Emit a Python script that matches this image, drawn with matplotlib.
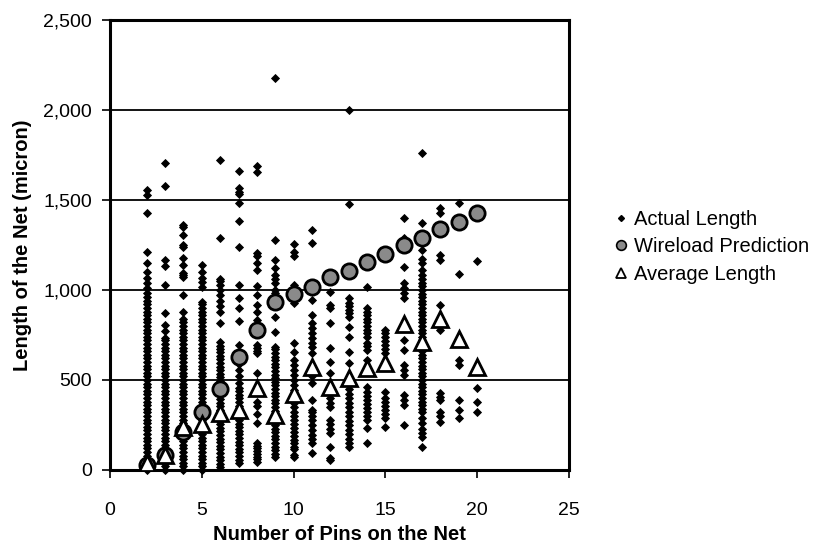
import matplotlib
matplotlib.use("Agg")
import matplotlib.pyplot as plt
from matplotlib.lines import Line2D
from matplotlib.ticker import FuncFormatter

plt.rcParams['font.family'] = ['Liberation Sans', 'DejaVu Sans']

# ---------------- data ----------------
pins = [2, 3, 4, 5, 6, 7, 8, 9, 10, 11, 12, 13, 14, 15, 16, 17, 18, 19, 20]

wireload = [28, 83, 211, 322, 450, 628, 778, 933, 978, 1017, 1070, 1108,
            1155, 1200, 1250, 1290, 1339, 1378, 1428]

average = [39, 83, 239, 255, 317, 333, 456, 306, 422, 572, 461, 511,
           567, 594, 811, 711, 839, 728, 572]

actual = {
    2: [0, 20, 40, 60, 80, 100, 120, 140, 160, 180, 200, 220, 240, 260, 280, 300,
        320, 340, 360, 380, 400, 420, 440, 460, 480, 500, 520, 540, 560, 580, 600,
        620, 640, 660, 680, 700, 720, 740, 760, 780, 800, 820, 840, 860, 880, 900,
        920, 940, 960, 985, 1010, 1040, 1064, 1100, 1150, 1211, 1427, 1528, 1555],
    3: [0, 20, 40, 60, 80, 100, 120, 140, 160, 180, 200, 220, 240, 260, 280, 300,
        320, 340, 360, 380, 400, 420, 440, 460, 480, 500, 520, 540, 560, 580, 600,
        620, 640, 660, 680, 700, 720, 735, 770, 805, 872, 1028, 1133, 1167, 1578, 1705],
    4: [0, 20, 40, 60, 80, 100, 120, 140, 160, 180, 200, 220, 240, 260, 280, 300,
        320, 340, 360, 380, 400, 420, 440, 460, 480, 500, 520, 540, 560, 580, 600,
        620, 640, 660, 680, 700, 720, 740, 760, 780, 800, 820, 840, 878, 972, 1072,
        1083, 1094, 1139, 1178, 1239, 1250, 1306, 1350, 1361],
    5: [0, 20, 40, 60, 80, 100, 120, 140, 160, 180, 200, 220, 240, 260, 280, 300,
        320, 340, 360, 380, 400, 420, 440, 460, 480, 500, 520, 540, 560, 580, 600,
        620, 640, 660, 680, 700, 720, 740, 760, 780, 800, 820, 840, 860, 880, 900,
        920, 933, 1017, 1044, 1067, 1100, 1139],
    6: [17, 35, 55, 75, 95, 115, 135, 155, 175, 195, 215, 235, 255, 275, 295, 315,
        335, 355, 375, 395, 415, 435, 455, 475, 495, 515, 535, 555, 575, 595, 615,
        635, 655, 675, 690, 711, 817, 880, 910, 940, 970, 1000, 1028, 1050, 1061,
        1289, 1722],
    7: [39, 58, 78, 98, 118, 138, 158, 178, 198, 218, 238, 258, 278, 298, 318, 338,
        358, 378, 398, 418, 438, 458, 483, 520, 556, 590, 617, 694, 828, 900, 955,
        1028, 1239, 1383, 1483, 1533, 1544, 1567, 1661],
    8: [44, 60, 75, 90, 105, 120, 135, 150, 261, 311, 356, 378, 539, 650, 662, 678,
        694, 833, 878, 917, 972, 1022, 1111, 1150, 1189, 1206, 1656, 1689],
    9: [72, 90, 110, 130, 150, 170, 190, 210, 230, 250, 270, 290, 310, 330, 350, 370,
        390, 410, 430, 450, 470, 490, 510, 530, 550, 570, 590, 610, 630, 650, 670,
        683, 767, 850, 933, 983, 1000, 1039, 1061, 1083, 1122, 1167, 1278, 2178],
    10: [72, 83, 117, 128, 150, 167, 189, 211, 233, 256, 278, 300, 322, 350, 372,
         444, 472, 500, 528, 556, 583, 611, 656, 706, 928, 1028, 1189, 1211, 1255],
    11: [94, 150, 172, 195, 222, 250, 278, 300, 320, 333, 389, 483, 520, 650, 683,
         708, 733, 761, 789, 817, 861, 944, 1261, 1333],
    12: [56, 67, 128, 206, 230, 255, 278, 350, 375, 400, 428, 539, 600, 678, 817,
         900, 917, 989],
    13: [128, 150, 175, 200, 225, 250, 275, 300, 325, 350, 375, 400, 425, 450, 483,
         594, 656, 739, 794, 850, 870, 890, 910, 930, 955, 1478, 2000],
    14: [150, 233, 278, 300, 322, 345, 367, 390, 412, 435, 461, 611, 667, 690, 706,
         739, 760, 780, 800, 820, 840, 860, 880, 900, 1017],
    15: [239, 289, 311, 333, 356, 378, 400, 433, 650, 672, 694, 717, 739, 761, 778],
    16: [250, 361, 389, 417, 528, 556, 583, 667, 722, 955, 983, 1011, 1039, 1128,
         1239, 1264, 1289, 1400],
    17: [128, 183, 206, 230, 260, 289, 322, 340, 360, 380, 400, 420, 440, 460, 480,
         500, 520, 540, 560, 580, 600, 620, 640, 660, 680, 700, 720, 740, 760, 780,
         800, 820, 840, 860, 880, 900, 920, 940, 960, 980, 1000, 1020, 1040, 1060,
         1083, 1111, 1150, 1172, 1222, 1372, 1761],
    18: [267, 300, 322, 389, 405, 428, 778, 917, 1167, 1194, 1428, 1455],
    19: [289, 333, 389, 583, 611, 1089, 1483],
    20: [322, 378, 456, 1161],
}

x_ticks = [0, 5, 10, 15, 20, 25]
y_ticks = [0, 500, 1000, 1500, 2000, 2500]

# ---------------- figure ----------------
W, H = 817, 548
fig = plt.figure(figsize=(W / 100, H / 100), dpi=100)
ax = fig.add_axes([110 / W, 1 - 470 / H, (569 - 110) / W, (470 - 20) / H])

ax.set_xlim(0, 25)
ax.set_ylim(0, 2500)

for y in [500, 1000, 1500, 2000]:
    ax.axhline(y, color='black', lw=1.3, zorder=1)

ax_x, ax_y = [], []
for k, vals in actual.items():
    ax_x.extend([k] * len(vals))
    ax_y.extend(vals)
ax.plot(ax_x, ax_y, linestyle='none', marker='D', ms=3.9, color='black',
        mec='black', mew=0.6, zorder=3, clip_on=False)

ax.plot(pins, wireload, linestyle='none', marker='o', ms=11,
        mfc='#8a8a8a', mec='black', mew=2.0, zorder=4)
ax.plot(pins, average, linestyle='none', marker='^', ms=12,
        mfc='white', mec='black', mew=2.0, zorder=5)

for s in ax.spines.values():
    s.set_linewidth(2.2)
    s.set_color('black')

ax.set_xticks(x_ticks)
ax.set_yticks(y_ticks)
ax.yaxis.set_major_formatter(FuncFormatter(lambda v, p: f"{int(v):,}"))
ax.tick_params(axis='both', direction='out', length=6, width=1.2,
               labelsize=14, colors='black')
ax.tick_params(axis='x', pad=17)
ax.tick_params(axis='y', pad=7)

fig.text(339 / W, 1 - 535 / H, 'Number of Pins on the Net', ha='center',
         va='center', fontsize=14.5, fontweight='bold')
fig.text(23 / W, 1 - 245 / H, 'Length of the Net (micron)', ha='center',
         va='center', rotation=90, fontsize=14.5, fontweight='bold')

handles = [
    Line2D([], [], linestyle='none', marker='D', ms=3, color='black'),
    Line2D([], [], linestyle='none', marker='o', ms=7, mfc='#8a8a8a',
           mec='black', mew=1.2),
    Line2D([], [], linestyle='none', marker='^', ms=7.5, mfc='white',
           mec='black', mew=1.3),
]
labels = ['Actual Length', 'Wireload Prediction', 'Average Length']
fig.legend(handles, labels, loc='center left',
           bbox_to_anchor=(614 / W, 1 - 247 / H), frameon=False,
           fontsize=14.5, handlelength=0.7, handletextpad=0.3,
           labelspacing=0.42, borderpad=0, borderaxespad=0)

fig.savefig('out.png', dpi=100)
